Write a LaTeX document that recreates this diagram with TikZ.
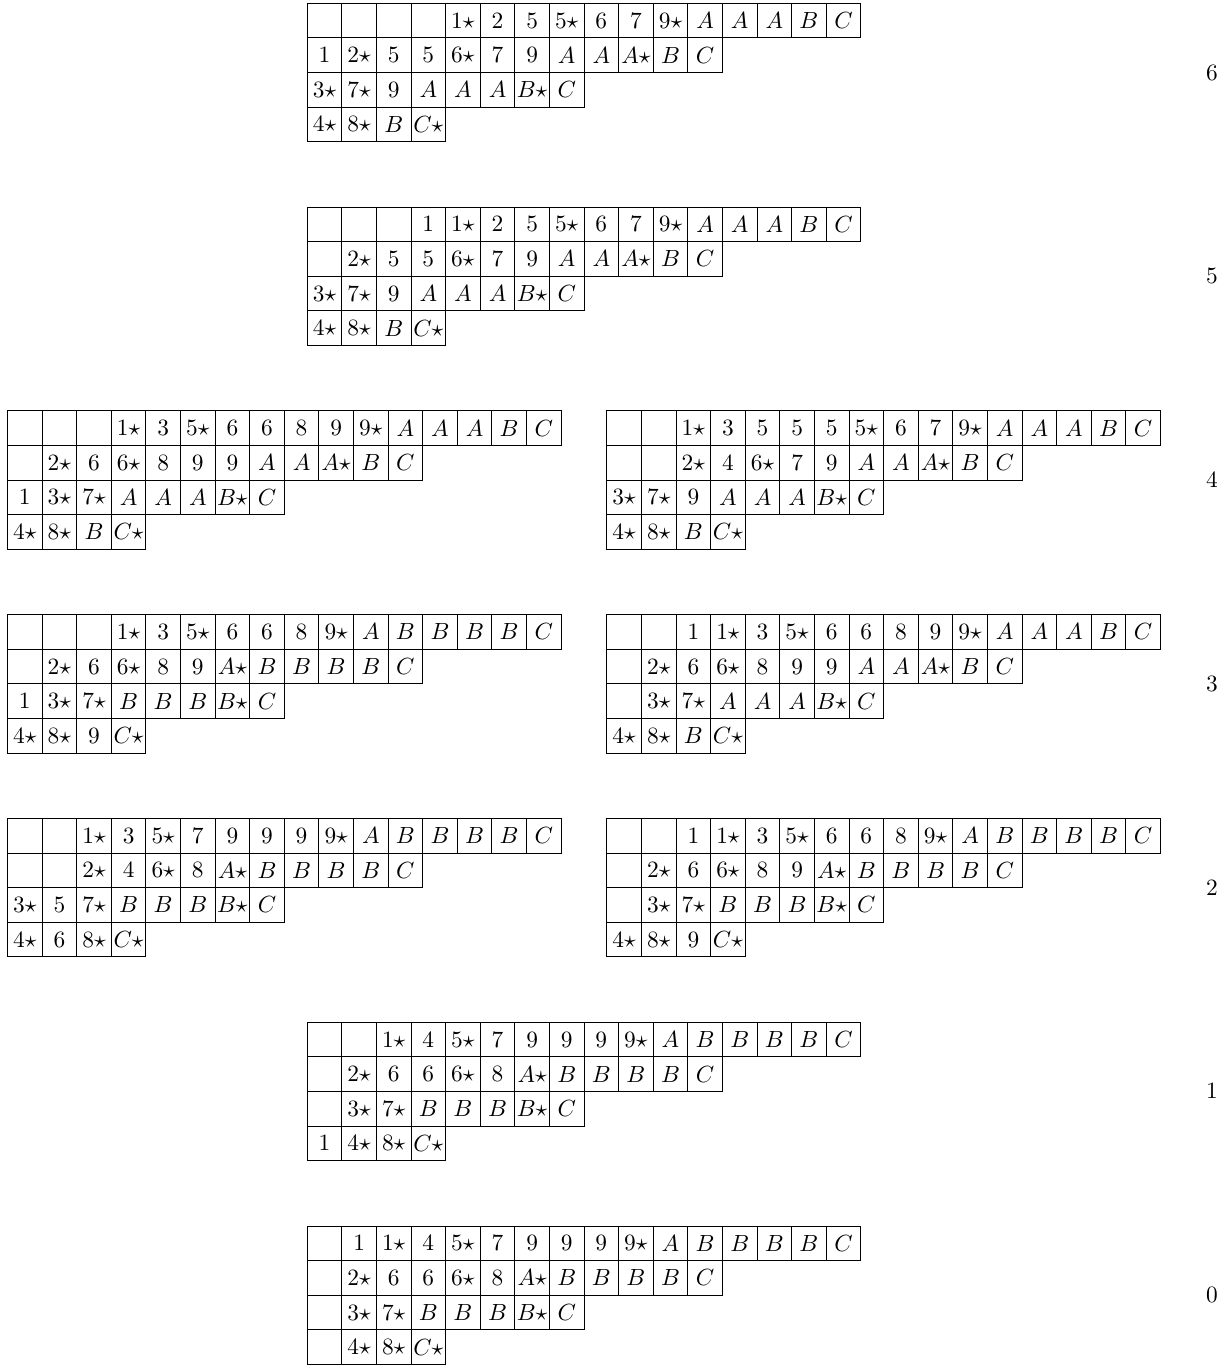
\documentclass[tikz,border=0pt]{standalone}
\usepackage{amsmath, amssymb}
\usepackage{tikz}

% one row of boxes: name, x and y of its top left corner, entries
\newcommand{\tabrow}[4]{%
  \foreach \e [count=\i from 0] in {#4}
    \node[cellBox] (#1-\i) at (#2+\i+0.5, #3-0.5) {$\e$};
}
% a tableau with four rows: name, x, y, rows
\newcommand{\tableau}[7]{%
  \tabrow{#1r0}{#2}{#3}{#4}
  \tabrow{#1r1}{#2}{#3-1}{#5}
  \tabrow{#1r2}{#2}{#3-2}{#6}
  \tabrow{#1r3}{#2}{#3-3}{#7}
}

\begin{document}
\begin{tikzpicture}[x=0.52cm, y=0.52cm,
    cellBox/.style={draw, minimum size=0.52cm, inner sep=0pt},
    levelLabel/.style={inner sep=0pt}]
  \useasboundingbox (0,0) rectangle (35.55,-39.54);

  % level 6
  \tableau{t6}{8.88}{-0.095}
    {{},{},{},{},1\star,2,5,5\star,6,7,9\star,A,A,A,B,C}
    {1,2\star,5,5,6\star,7,9,A,A,A\star,B,C}
    {3\star,7\star,9,A,A,A,B\star,C}
    {4\star,8\star,B,C\star}
  \node[levelLabel] (lab6) at (35.03,-2.095) {$6$};

  % level 5
  \tableau{t5}{8.88}{-5.985}
    {{},{},{},1,1\star,2,5,5\star,6,7,9\star,A,A,A,B,C}
    {{},2\star,5,5,6\star,7,9,A,A,A\star,B,C}
    {3\star,7\star,9,A,A,A,B\star,C}
    {4\star,8\star,B,C\star}
  \node[levelLabel] (lab5) at (35.03,-7.985) {$5$};

  % level 4
  \tableau{t4a}{0.217}{-11.875}
    {{},{},{},1\star,3,5\star,6,6,8,9,9\star,A,A,A,B,C}
    {{},2\star,6,6\star,8,9,9,A,A,A\star,B,C}
    {1,3\star,7\star,A,A,A,B\star,C}
    {4\star,8\star,B,C\star}
  \tableau{t4b}{17.54}{-11.875}
    {{},{},1\star,3,5,5,5,5\star,6,7,9\star,A,A,A,B,C}
    {{},{},2\star,4,6\star,7,9,A,A,A\star,B,C}
    {3\star,7\star,9,A,A,A,B\star,C}
    {4\star,8\star,B,C\star}
  \node[levelLabel] (lab4) at (35.03,-13.875) {$4$};

  % level 3
  \tableau{t3a}{0.217}{-17.765}
    {{},{},{},1\star,3,5\star,6,6,8,9\star,A,B,B,B,B,C}
    {{},2\star,6,6\star,8,9,A\star,B,B,B,B,C}
    {1,3\star,7\star,B,B,B,B\star,C}
    {4\star,8\star,9,C\star}
  \tableau{t3b}{17.54}{-17.765}
    {{},{},1,1\star,3,5\star,6,6,8,9,9\star,A,A,A,B,C}
    {{},2\star,6,6\star,8,9,9,A,A,A\star,B,C}
    {{},3\star,7\star,A,A,A,B\star,C}
    {4\star,8\star,B,C\star}
  \node[levelLabel] (lab3) at (35.03,-19.765) {$3$};

  % level 2
  \tableau{t2a}{0.217}{-23.655}
    {{},{},1\star,3,5\star,7,9,9,9,9\star,A,B,B,B,B,C}
    {{},{},2\star,4,6\star,8,A\star,B,B,B,B,C}
    {3\star,5,7\star,B,B,B,B\star,C}
    {4\star,6,8\star,C\star}
  \tableau{t2b}{17.54}{-23.655}
    {{},{},1,1\star,3,5\star,6,6,8,9\star,A,B,B,B,B,C}
    {{},2\star,6,6\star,8,9,A\star,B,B,B,B,C}
    {{},3\star,7\star,B,B,B,B\star,C}
    {4\star,8\star,9,C\star}
  \node[levelLabel] (lab2) at (35.03,-25.655) {$2$};

  % level 1
  \tableau{t1}{8.88}{-29.545}
    {{},{},1\star,4,5\star,7,9,9,9,9\star,A,B,B,B,B,C}
    {{},2\star,6,6,6\star,8,A\star,B,B,B,B,C}
    {{},3\star,7\star,B,B,B,B\star,C}
    {1,4\star,8\star,C\star}
  \node[levelLabel] (lab1) at (35.03,-31.545) {$1$};

  % level 0
  \tableau{t0}{8.88}{-35.435}
    {{},1,1\star,4,5\star,7,9,9,9,9\star,A,B,B,B,B,C}
    {{},2\star,6,6,6\star,8,A\star,B,B,B,B,C}
    {{},3\star,7\star,B,B,B,B\star,C}
    {{},4\star,8\star,C\star}
  \node[levelLabel] (lab0) at (35.03,-37.435) {$0$};
\end{tikzpicture}
\end{document}
